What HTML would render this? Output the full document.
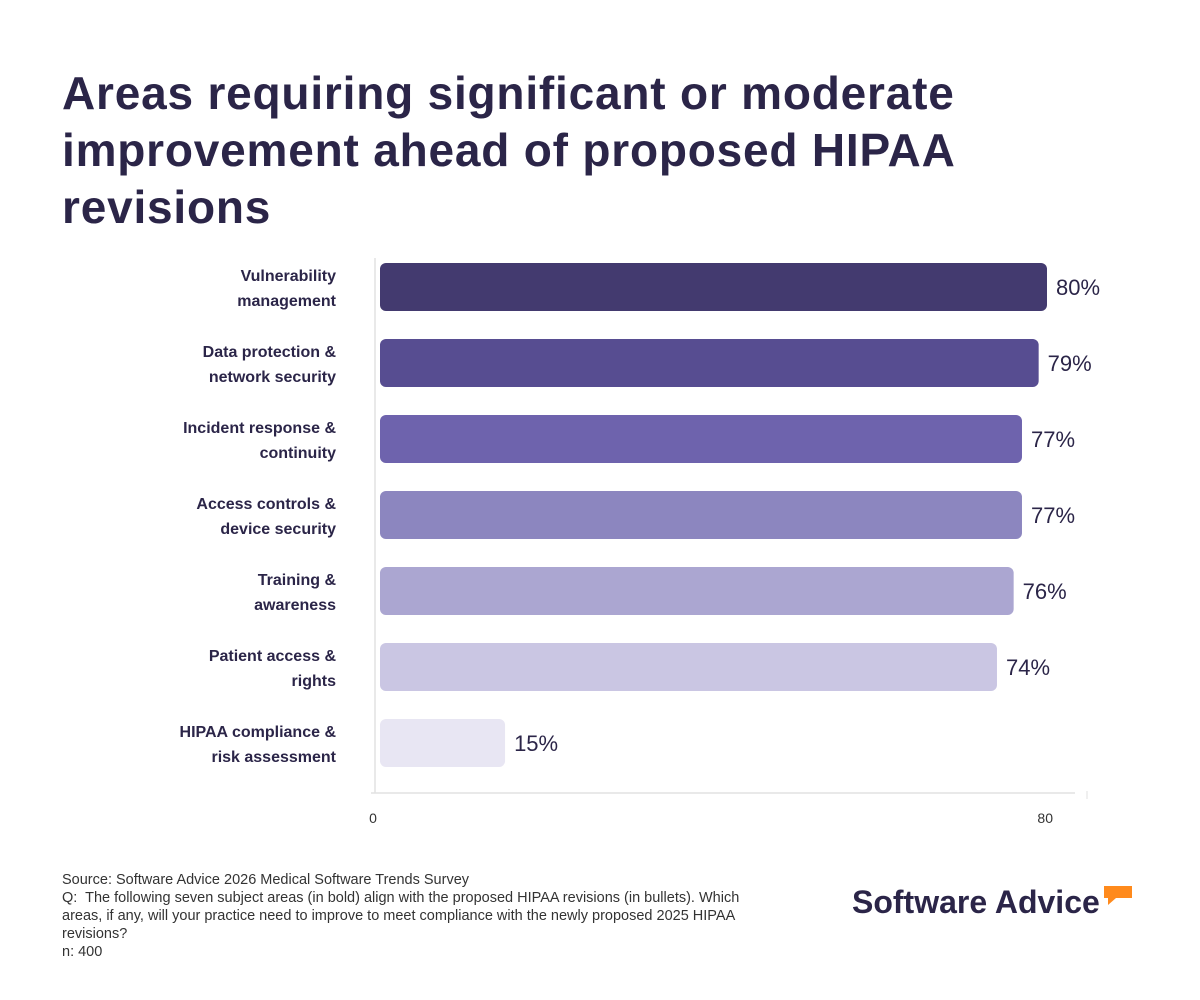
<!DOCTYPE html>
<html><head><meta charset="utf-8"><style>
body{margin:0;background:#fff;width:1200px;height:1000px;overflow:hidden;font-family:"Liberation Sans",sans-serif;color:#2b2548;position:relative}
h1{position:absolute;left:62px;top:65px;margin:0;font-size:46px;line-height:57px;font-weight:bold;color:#2b2548;width:1060px;letter-spacing:0.8px}
.foot{position:absolute;left:62px;top:871px;font-size:14.5px;line-height:18px;color:#333;width:690px}
.logo{position:absolute;left:852px;top:884px;font-size:32px;font-weight:bold;color:#2b2548;letter-spacing:0px}
</style></head><body>
<h1>Areas requiring significant or moderate improvement ahead of proposed HIPAA revisions</h1>
<svg id="chart" width="1200" height="1000" style="position:absolute;left:0;top:0"></svg>
<div class="foot">Source: Software Advice 2026 Medical Software Trends Survey<br>Q:&nbsp; The following seven subject areas (in bold) align with the proposed HIPAA revisions (in bullets). Which areas, if any, will your practice need to improve to meet compliance with the newly proposed 2025 HIPAA revisions?<br>n: 400</div>
<div class="logo">Software Advice<svg width="30" height="22" style="position:absolute;left:252px;top:2px"><path d="M0 0H28V12H12L4 19V12H0Z" fill="#ff8a1c"/></svg></div>
<script>
const categories=[["Vulnerability","management"],["Data protection &","network security"],["Incident response &","continuity"],["Access controls &","device security"],["Training &","awareness"],["Patient access &","rights"],["HIPAA compliance &","risk assessment"]];
const values=[80,79,77,77,76,74,15];
const colors=["#433a6f","#574d91","#6e63ad","#8c86bf","#aba6d1","#cac6e3","#e8e6f3"];
const ticks=[0,80];
const svg=document.getElementById('chart');
const NS='http://www.w3.org/2000/svg';
const x0=380,xs=667/80,y0=263,step=76,bh=48;
const X=v=>x0+v*xs, Y=i=>y0+i*step;
function mk(t,a){const e=document.createElementNS(NS,t);for(const k in a)e.setAttribute(k,a[k]);svg.appendChild(e);return e;}
let l=mk('line',{x1:375,y1:258,x2:375,y2:793,stroke:'#e2e2e2','stroke-width':1.5});


l=mk('line',{x1:371,y1:793,x2:1075,y2:793,stroke:'#e2e2e2','stroke-width':1.5});


l=mk('line',{x1:1087,y1:791,x2:1087,y2:799,stroke:'#e2e2e2','stroke-width':1});


ticks.forEach(t=>{const e=mk('text',{x:X(t)-7+t*0.065,y:823,'text-anchor':'middle','font-size':14,fill:'#333','font-family':'Liberation Sans, sans-serif'});e.textContent=t;

});
values.forEach((v,i)=>{
 const r=mk('rect',{x:x0,y:Y(i),width:X(v)-x0,height:bh,rx:6,fill:colors[i]});
 
 
 const t=mk('text',{x:X(v)+9,y:Y(i)+bh/2+8,'font-size':22,fill:'#2b2548','font-family':'Liberation Sans, sans-serif'});t.textContent=v+'%';
 
 
 categories[i].forEach((s,j)=>{const c=mk('text',{x:336,y:Y(i)+18+j*25,'text-anchor':'end','font-size':16,'font-weight':'bold',fill:'#2b2548','font-family':'Liberation Sans, sans-serif'});c.textContent=s;
 
 });
});
</script>
</body></html>
